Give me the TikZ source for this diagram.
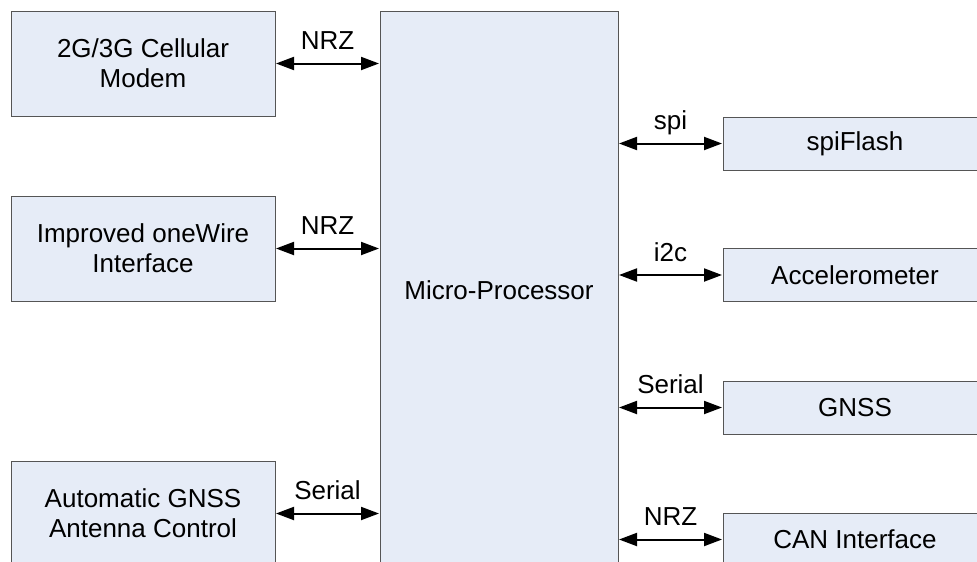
\documentclass[tikz,border=0pt]{standalone}
\usepackage{fontspec}
\setmainfont{Liberation Sans}
\usetikzlibrary{arrows.meta}
\definecolor{boxfill}{RGB}{230,236,247}
\definecolor{boxline}{RGB}{85,85,85}
\begin{document}
\begin{tikzpicture}[x=1pt,y=-1pt,
  blk/.style={draw=boxline,fill=boxfill,line width=1pt,inner sep=0pt,
    minimum width=264pt,align=center,
    font=\fontsize{26}{30}\selectfont},
  tall/.style={blk,minimum height=105pt},
  flat/.style={blk,minimum height=53pt},
  link/.style={line width=2pt,{Triangle[length=18pt,width=13pt]}-{Triangle[length=18pt,width=13pt]},shorten <=0.5pt,shorten >=0.5pt},
  lab/.style={anchor=base,inner sep=0pt,font=\fontsize{26}{30}\selectfont}]
\useasboundingbox (0,0) rectangle (977,562);
\clip (0,0) rectangle (977,562);
\fill[white] (0,0) rectangle (977,562);
% left blocks
\node[tall] (modem) at (143,63.5) {2G/3G Cellular\\Modem};
\node[tall] (wire) at (143,248.5) {Improved oneWire\\Interface};
\node[tall] (ant) at (143,513.5) {Automatic GNSS\\Antenna Control};
% processor
\node[blk,minimum width=238pt,minimum height=558pt] (mcu) at (499,290) {Micro-Processor};
% right blocks
\node[flat] (flash) at (855,143.5) {spiFlash};
\node[flat] (acc) at (855,275) {Accelerometer};
\node[flat] (gnss) at (855,407.5) {GNSS};
\node[flat] (can) at (855,539.5) {CAN Interface};
% connectors left
\draw[link] (modem.east) -- (mcu.west |- modem.east) coordinate[midway] (m1);
\draw[link] (wire.east) -- (mcu.west |- wire.east) coordinate[midway] (m2);
\draw[link] (ant.east) -- (mcu.west |- ant.east) coordinate[midway] (m3);
\node[lab] (l1) at ([yshift=14pt]m1) {NRZ};
\node[lab] (l2) at ([yshift=14pt]m2) {NRZ};
\node[lab] (l3) at ([yshift=14pt]m3) {Serial};
% connectors right
\draw[link] (mcu.east |- flash.west) -- (flash.west) coordinate[midway] (r1);
\draw[link] (mcu.east |- acc.west) -- (acc.west) coordinate[midway] (r2);
\draw[link] (mcu.east |- gnss.west) -- (gnss.west) coordinate[midway] (r3);
\draw[link] (mcu.east |- can.west) -- (can.west) coordinate[midway] (r4);
\node[lab] (q1) at ([yshift=14pt]r1) {spi};
\node[lab] (q2) at ([yshift=14pt]r2) {i2c};
\node[lab] (q3) at ([yshift=14pt]r3) {Serial};
\node[lab] (q4) at ([yshift=14pt]r4) {NRZ};
\end{tikzpicture}
\end{document}
